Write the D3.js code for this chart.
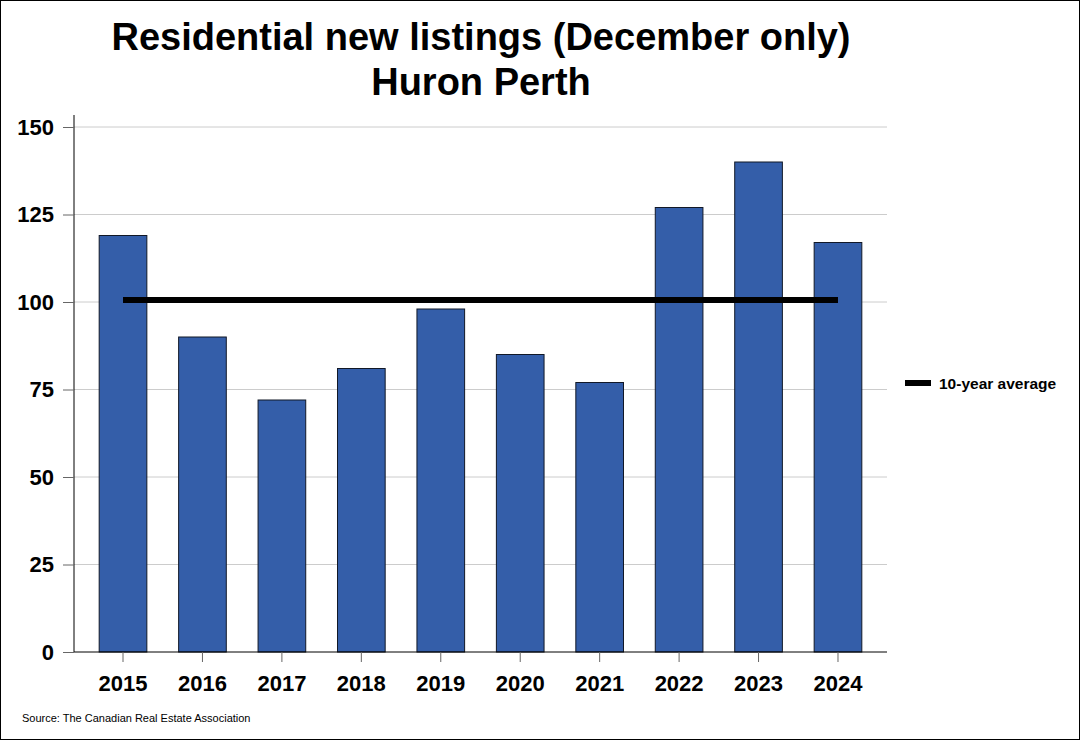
<!DOCTYPE html>
<html><head><meta charset="utf-8">
<script src="https://cdn.jsdelivr.net/npm/d3@7"></script>
<style>body{margin:0;background:#fff}svg{display:block}text{font-family:Arial,"Liberation Sans",sans-serif}</style>
</head><body>
<script>
const years = ["2015","2016","2017","2018","2019","2020","2021","2022","2023","2024"];
const listings = [119, 90, 72, 81, 98, 85, 77, 127, 140, 117];
const average = [100.6];
const yTicks = [0, 25, 50, 75, 100, 125, 150];
const titleLines = ["Residential new listings (December only)", "Huron Perth"];
const legendLabel = "10-year average";
const sourceText = "Source: The Canadian Real Estate Association";

(function(){
const W = 1080, H = 740;
const svg = d3.select("body").append("svg").attr("width", W).attr("height", H);
svg.append("rect").attr("x",0.5).attr("y",0.5).attr("width",W-1).attr("height",H-1).attr("fill","#fff").attr("stroke","#000");

const pL = 74, pR = 887, pT = 127, pB = 652;
const x = d3.scaleBand().domain(years).range([pL, pR]).paddingInner(0.4).paddingOuter(0.317);
const y = d3.scaleLinear().domain([0,150]).range([pB, pT]);

// gridlines
svg.append("g").selectAll("line").data(yTicks.filter(d=>d>0)).join("line")
  .attr("x1", pL).attr("x2", pR).attr("y1", d=>y(d)).attr("y2", d=>y(d))
  .attr("stroke","#cccccc").attr("stroke-width",1);

// bars
svg.append("g").selectAll("rect").data(years).join("rect")
  .attr("x", d=>x(d)).attr("width", x.bandwidth())
  .attr("y", (d,i)=>y(listings[i])).attr("height", (d,i)=>y(0)-y(listings[i]))
  .attr("fill","#345EA9").attr("stroke","#111827").attr("stroke-width",1);

// y axis
const ya = svg.append("g").attr("transform",`translate(${pL},0)`)
  .call(d3.axisLeft(y).tickValues(yTicks).tickSize(11).tickPadding(9).tickFormat(d3.format("d")));
ya.select(".domain").attr("stroke","#000").attr("d",`M0,${pT-12}V${pB}`);
ya.selectAll(".tick line").attr("stroke","#666");
ya.selectAll(".tick text").attr("font-size",22).attr("font-weight","bold").attr("fill","#000").attr("font-family","Arial, 'Liberation Sans', sans-serif");

// x axis
const xa = svg.append("g").attr("transform",`translate(0,${pB})`)
  .call(d3.axisBottom(x).tickSize(10).tickPadding(13));
xa.select(".domain").attr("stroke","#000").attr("d",`M${pL},0H${pR}`);
xa.selectAll(".tick line").attr("stroke","#666");
xa.selectAll(".tick text").attr("font-size",22).attr("font-weight","bold").attr("fill","#000").attr("font-family","Arial, 'Liberation Sans', sans-serif");

// average line
svg.append("line")
  .attr("x1", x(years[0]) + x.bandwidth()/2).attr("x2", x(years[years.length-1]) + x.bandwidth()/2)
  .attr("y1", y(average[0])).attr("y2", y(average[0]))
  .attr("stroke","#000").attr("stroke-width",6);

// legend
svg.append("line").attr("x1",905).attr("x2",931).attr("y1",383).attr("y2",383).attr("stroke","#000").attr("stroke-width",6);
svg.append("text").attr("x",939).attr("y",388.5).attr("font-size",15.5).attr("font-weight","bold").text(legendLabel);

// title
svg.append("g").selectAll("text").data(titleLines).join("text")
  .attr("x",481).attr("y",(d,i)=>50+i*45).attr("text-anchor","middle")
  .attr("font-size",38).attr("font-weight","bold").text(d=>d);

svg.append("text").attr("x",22).attr("y",722).attr("font-size",11).text(sourceText);
})();
</script>
</body></html>
